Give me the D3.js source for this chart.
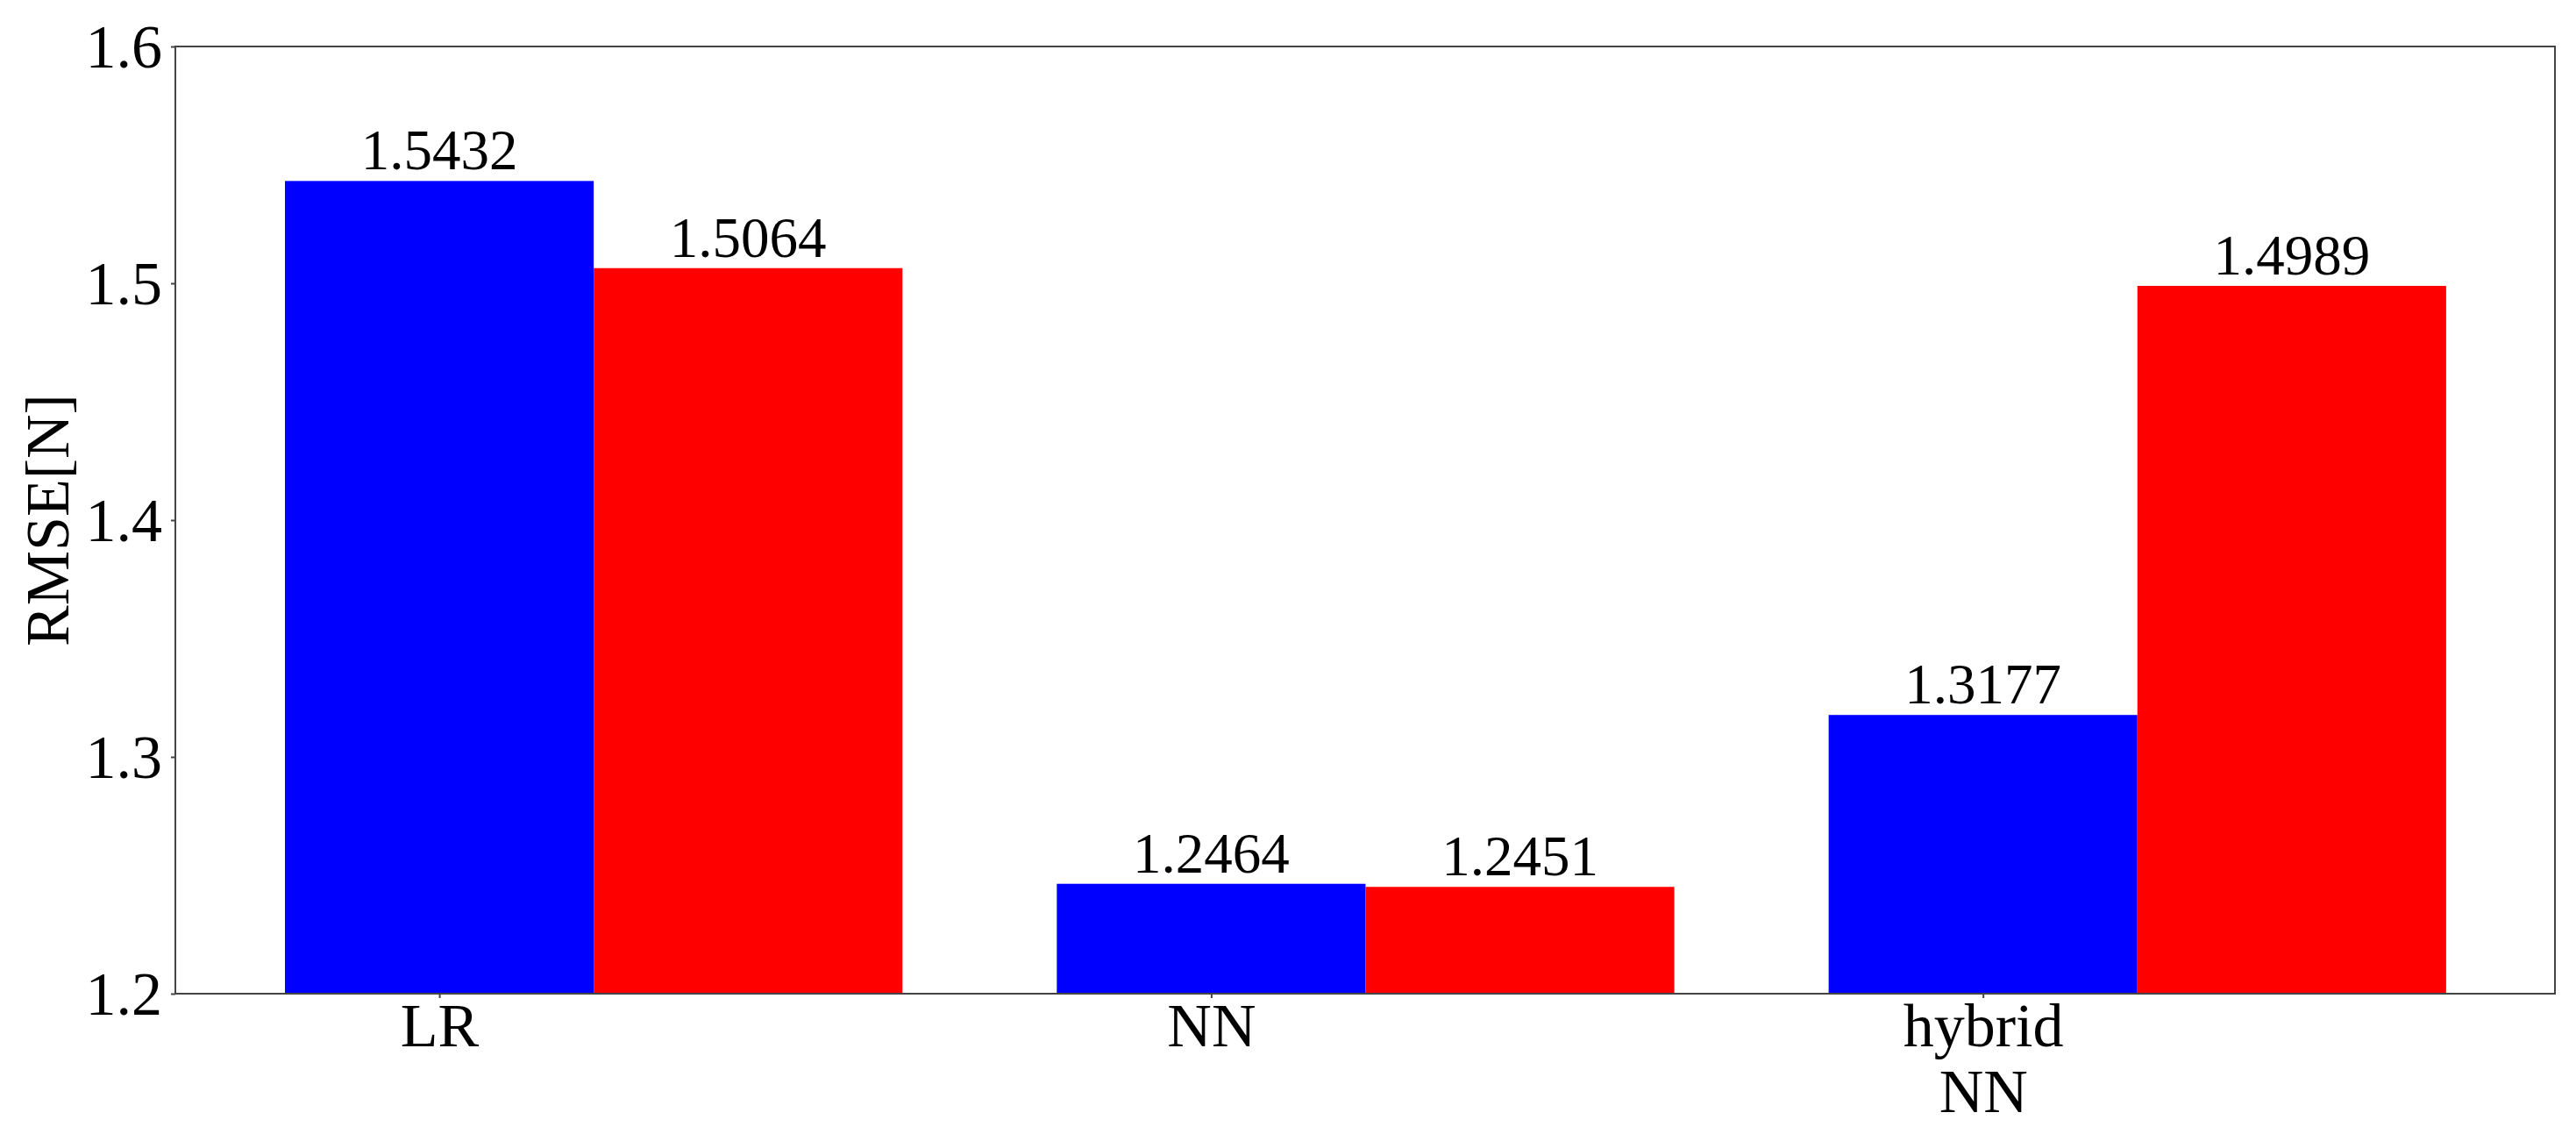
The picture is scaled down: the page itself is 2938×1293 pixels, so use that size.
<!DOCTYPE html>
<html>
<head>
<meta charset="utf-8">
<script src="https://d3js.org/d3.v7.min.js"></script>
<style>
  body { margin: 0; background: #fff; }
  text { font-family: "Liberation Serif", "Times New Roman", serif; fill: #000; }
  .axis path, .axis line { stroke: #444; stroke-width: 2; }
</style>
</head>
<body>
<script>
// data
var categories = ["LR", "NN", "hybrid\nNN"];
var blueValues = [1.5432, 1.2464, 1.3177];
var redValues = [1.5064, 1.2451, 1.4989];
var yTicks = [1.2, 1.3, 1.4, 1.5, 1.6];

var totalWidth = 2938, totalHeight = 1293;
var margins = { left: 200, top: 53, right: 24, bottom: 160 };
var w = totalWidth - margins.left - margins.right;
var h = totalHeight - margins.top - margins.bottom;
var barW = 0.4;

var svg = d3.select("body").append("svg")
    .attr("width", totalWidth)
    .attr("height", totalHeight);
var g = svg.append("g")
    .attr("transform", "translate(" + margins.left + "," + margins.top + ")");

// scales
var x = d3.scaleLinear().domain([-0.342, 2.741]).range([0, w]);
var y = d3.scaleLinear().domain([1.2, 1.6]).range([h, 0]);

var rows = categories.map(function(c, i) {
    return { cat: c, i: i, blue: blueValues[i], red: redValues[i] };
});

// bars
var series = [
    { key: "blue", color: "#0000ff", off: 0 },
    { key: "red", color: "#ff0000", off: barW }
];
series.forEach(function(s) {
    g.selectAll(".bar-" + s.key)
        .data(rows)
        .enter().append("rect")
        .attr("class", "bar-" + s.key)
        .attr("x", function(d) { return x(d.i + s.off - barW / 2); })
        .attr("width", x(barW) - x(0))
        .attr("y", function(d) { return y(d[s.key]); })
        .attr("height", function(d) { return h - y(d[s.key]); })
        .attr("fill", s.color);

    g.selectAll(".lbl-" + s.key)
        .data(rows)
        .enter().append("text")
        .attr("class", "lbl-" + s.key)
        .attr("x", function(d) { return x(d.i + s.off); })
        .attr("y", function(d) { return y(d[s.key]) - 13; })
        .attr("text-anchor", "middle")
        .style("font-size", "65px")
        .text(function(d) { return d[s.key].toFixed(4); });
});

// frame
g.append("rect")
    .attr("width", w).attr("height", h)
    .attr("fill", "none").attr("stroke", "#444").attr("stroke-width", 2);

// y axis
var yAxis = g.append("g").attr("class", "axis")
    .call(d3.axisLeft(y).tickValues(yTicks).tickSize(5).tickPadding(10)
        .tickFormat(d3.format(".1f")));
yAxis.select(".domain").remove();
yAxis.selectAll("text").style("font-size", "70px").attr("dy", "0.34em");

// x axis
var xAxis = g.append("g").attr("class", "axis")
    .attr("transform", "translate(0," + h + ")")
    .call(d3.axisBottom(x).tickValues(rows.map(function(d) { return d.i; }))
        .tickSize(5).tickFormat(""));
xAxis.select(".domain").remove();
xAxis.selectAll(".tick").each(function(d) {
    var lines = categories[d].split("\n");
    var t = d3.select(this).append("text")
        .attr("text-anchor", "middle")
        .style("font-size", "70px");
    lines.forEach(function(l, k) {
        t.append("tspan").attr("x", 0).attr("y", 60 + k * 75).text(l);
    });
});

// y label
svg.append("text")
    .attr("transform", "translate(78," + (margins.top + y(1.4)) + ") rotate(-90)")
    .attr("text-anchor", "middle")
    .style("font-size", "70px")
    .text("RMSE[N]");
</script>
</body>
</html>
